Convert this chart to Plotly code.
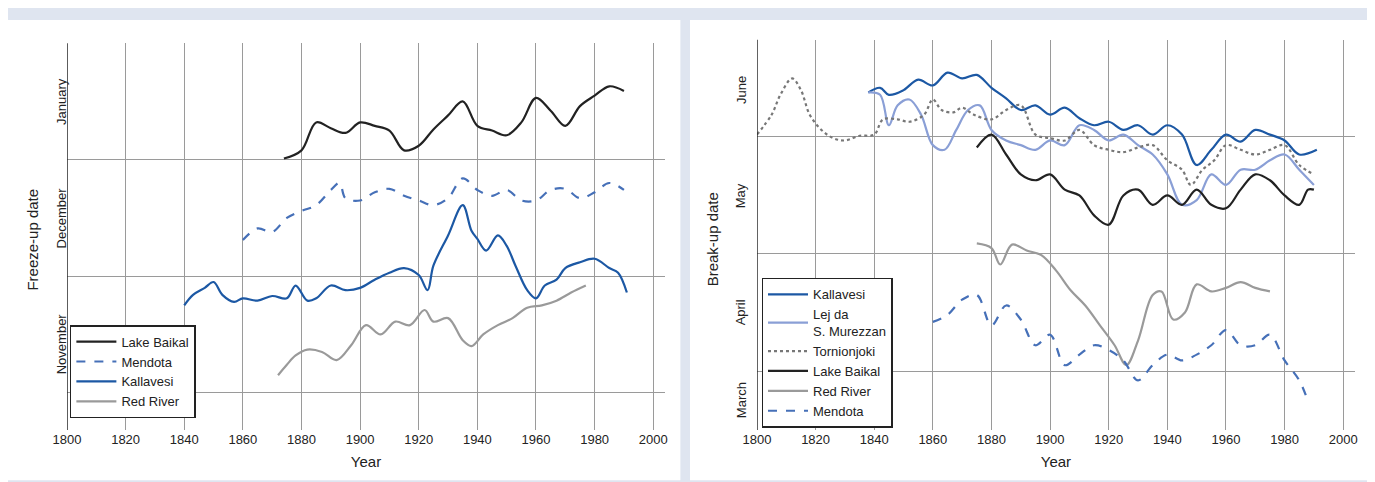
import plotly.graph_objects as go

# Left panel: freeze-up (months after 1 Nov; 0=Nov, 1=Dec, 2=Jan)
baikal_f_yr = [1874,1880,1885,1890,1895,1900,1905,1910,1915,1920,1925,1930,1935,1940,1945,1950,1955,1960,1965,1970,1975,1980,1985,1990]
baikal_f = [2.01,2.08,2.32,2.27,2.23,2.32,2.29,2.25,2.08,2.12,2.26,2.38,2.50,2.29,2.25,2.21,2.32,2.53,2.42,2.29,2.46,2.55,2.63,2.59]
mendota_f_yr = [1860,1865,1870,1875,1880,1885,1890,1893,1895,1900,1905,1910,1915,1920,1925,1930,1935,1940,1945,1950,1955,1960,1965,1970,1975,1980,1985,1990]
mendota_f = [1.31,1.41,1.38,1.50,1.56,1.61,1.74,1.80,1.67,1.65,1.72,1.75,1.69,1.65,1.61,1.67,1.84,1.74,1.69,1.74,1.65,1.65,1.74,1.75,1.67,1.72,1.80,1.74]
kall_f_yr = [1840,1843,1847,1850,1853,1857,1860,1865,1870,1875,1878,1882,1885,1890,1895,1900,1905,1910,1915,1920,1923,1925,1930,1935,1938,1940,1943,1947,1950,1953,1957,1960,1963,1967,1970,1975,1980,1985,1988,1991]
kall_f = [.75,.84,.90,.95,.84,.78,.81,.79,.83,.81,.92,.79,.81,.92,.88,.90,.97,1.03,1.07,1.01,.88,1.09,1.35,1.61,1.39,1.32,1.22,1.35,1.26,1.09,.88,.81,.92,.97,1.07,1.12,1.15,1.07,1.03,.86]
red_f_yr = [1872,1875,1878,1882,1887,1892,1897,1902,1907,1912,1917,1922,1925,1930,1935,1938,1942,1947,1952,1957,1962,1967,1972,1977]
red_f = [.15,.24,.32,.37,.35,.28,.41,.58,.50,.61,.58,.71,.61,.64,.45,.40,.50,.58,.64,.73,.75,.79,.86,.92]

# Right panel: break-up (1=Apr, 2=May, 3=Jun starts)
torn_yr = [1800,1805,1808,1812,1815,1818,1822,1826,1830,1835,1840,1843,1848,1852,1857,1860,1863,1867,1870,1874,1880,1885,1890,1895,1900,1905,1910,1915,1920,1925,1930,1935,1940,1945,1948,1952,1956,1960,1965,1970,1975,1980,1985,1990]
torn = [3.02,3.19,3.36,3.50,3.40,3.19,3.06,2.99,2.97,3.01,3.02,3.15,3.15,3.13,3.19,3.32,3.23,3.21,3.25,3.19,3.15,3.23,3.27,3.02,2.99,2.97,3.06,2.93,2.89,2.87,2.91,2.93,2.80,2.72,2.59,2.72,2.80,2.93,2.89,2.85,2.89,2.93,2.76,2.68]
kall_b_yr = [1838,1842,1845,1850,1855,1860,1865,1870,1875,1880,1885,1890,1895,1900,1905,1910,1915,1920,1925,1930,1935,1940,1945,1950,1955,1960,1965,1970,1975,1980,1985,1991]
kall_b = [3.38,3.42,3.36,3.40,3.49,3.44,3.55,3.50,3.53,3.42,3.33,3.23,3.27,3.19,3.25,3.16,3.10,3.13,3.06,3.10,3.02,3.10,3.02,2.76,2.89,3.02,2.96,3.06,3.02,2.97,2.85,2.89]
lej_yr = [1838,1842,1845,1848,1852,1856,1860,1864,1868,1872,1876,1880,1885,1890,1895,1900,1905,1910,1915,1920,1925,1930,1935,1940,1945,1950,1955,1960,1965,1970,1975,1980,1985,1990]
lej = [3.38,3.36,3.10,3.27,3.32,3.19,2.93,2.89,3.06,3.23,3.27,3.06,2.97,2.93,2.89,2.97,2.93,3.10,3.06,2.97,3.02,2.93,2.85,2.68,2.42,2.46,2.68,2.59,2.72,2.72,2.80,2.85,2.72,2.59]
baikal_b_yr = [1875,1880,1885,1890,1895,1900,1905,1910,1915,1920,1925,1930,1935,1940,1945,1950,1955,1960,1965,1970,1975,1980,1985,1988,1990]
baikal_b = [2.91,3.02,2.85,2.68,2.63,2.68,2.55,2.50,2.33,2.25,2.50,2.55,2.42,2.50,2.42,2.55,2.42,2.39,2.55,2.68,2.63,2.50,2.42,2.55,2.55]
red_b_yr = [1875,1880,1883,1887,1892,1897,1902,1907,1912,1917,1922,1926,1930,1935,1938,1942,1946,1950,1955,1960,1965,1970,1975]
red_b = [2.09,2.05,1.91,2.08,2.03,1.99,1.86,1.69,1.56,1.39,1.22,1.05,1.26,1.65,1.68,1.44,1.50,1.74,1.68,1.71,1.76,1.71,1.68]
mendota_b_yr = [1860,1865,1870,1875,1880,1885,1890,1895,1900,1905,1910,1915,1920,1925,1930,1935,1940,1945,1950,1955,1960,1965,1970,1975,1980,1985,1988]
mendota_b = [1.42,1.48,1.61,1.65,1.39,1.56,1.44,1.22,1.31,1.05,1.14,1.22,1.18,1.09,.92,1.05,1.14,1.09,1.14,1.22,1.35,1.22,1.22,1.31,1.09,.92,.74]

BLACK = "#222222"
DARK = "#1c58a4"
LIGHT = "#8a9fd6"
DASH = "#4670b8"
GRAY = "#9a9a9a"

fig = go.Figure()

def add(x, y, name, color, dash, xa, ya, leg):
    fig.add_trace(go.Scatter(x=x, y=y, name=name, mode="lines", line_shape="spline",
                             line=dict(color=color, width=2.2, dash=dash),
                             xaxis=xa, yaxis=ya, legend=leg))

add(baikal_f_yr, baikal_f, "Lake Baikal", BLACK, "solid", "x", "y", "legend")
add(mendota_f_yr, mendota_f, "Mendota", DASH, "dash", "x", "y", "legend")
add(kall_f_yr, kall_f, "Kallavesi", DARK, "solid", "x", "y", "legend")
add(red_f_yr, red_f, "Red River", GRAY, "solid", "x", "y", "legend")

add(kall_b_yr, kall_b, "Kallavesi", DARK, "solid", "x2", "y2", "legend2")
add(lej_yr, lej, "Lej da<br>S. Murezzan", LIGHT, "solid", "x2", "y2", "legend2")
add(torn_yr, torn, "Tornionjoki", "#777777", "dot", "x2", "y2", "legend2")
add(baikal_b_yr, baikal_b, "Lake Baikal", BLACK, "solid", "x2", "y2", "legend2")
add(red_b_yr, red_b, "Red River", GRAY, "solid", "x2", "y2", "legend2")
add(mendota_b_yr, mendota_b, "Mendota", DASH, "dash", "x2", "y2", "legend2")

xcommon = dict(range=[1800, 2004], tickvals=list(range(1800, 2001, 20)), showgrid=True,
               gridcolor="#9a9a9a", gridwidth=1, zeroline=False, showline=False,
               ticks="", tickfont=dict(size=13, color="#222"),
               title=dict(text="Year", font=dict(size=15, color="#222"), standoff=10))
ycommon = dict(showgrid=True, gridcolor="#9a9a9a", gridwidth=1, zeroline=False,
               showticklabels=False, ticks="", showline=False)

fig.update_layout(
    width=1375, height=482, margin=dict(l=0, r=0, t=0, b=0, autoexpand=False),
    paper_bgcolor="#dfe5f0", plot_bgcolor="white",
    font=dict(family="Liberation Sans, Arial, sans-serif", color="#222"),
    xaxis=dict(domain=[0.0429, 0.4778], anchor="y", **xcommon),
    yaxis=dict(domain=[0.1245, 0.927], range=[-0.32, 3.0], tickvals=[0, 1, 2, 3], anchor="x", **ycommon),
    xaxis2=dict(domain=[0.5447, 0.9796], anchor="y2", **xcommon),
    yaxis2=dict(domain=[0.1245, 0.934], range=[0.496, 3.83], tickvals=[1, 2, 3], anchor="x2", **ycommon),
    legend=dict(x=0.045, y=0.342, xanchor="left", yanchor="top", bgcolor="white",
                bordercolor="#222", borderwidth=1.5, font=dict(size=13), tracegroupgap=0,
                itemwidth=40),
    legend2=dict(x=0.548, y=0.44, xanchor="left", yanchor="top", bgcolor="white",
                 bordercolor="#222", borderwidth=1.5, font=dict(size=13), tracegroupgap=0,
                 itemwidth=40),
)

# white panels behind each chart
for x0, x1 in [(0.0, 0.489), (0.496, 0.989)]:
    fig.add_shape(type="rect", xref="paper", yref="paper", x0=x0, x1=x1, y0=0.02, y1=0.975,
                  fillcolor="white", line=dict(width=0), layer="below")
# y axis lines at 1800
for xa, ya in [("x", "y domain"), ("x2", "y2 domain")]:
    fig.add_shape(type="line", xref=xa, yref=ya, x0=1800, x1=1800, y0=0, y1=1,
                  line=dict(color="#222", width=1.5))

# month labels
for xp, labels in [(0.032, [("November", "y", 0.42), ("December", "y", 1.5), ("January", "y", 2.5)]),
                   (0.533, [("March", "y2", 0.75), ("April", "y2", 1.5), ("May", "y2", 2.5), ("June", "y2", 3.4)])]:
    for txt, ya, yv in labels:
        fig.add_annotation(text=txt, xref="paper", yref=ya, x=xp, y=yv, textangle=-90,
                           showarrow=False, font=dict(size=13, color="#222"))
fig.add_annotation(text="Freeze-up date", xref="paper", yref="paper", x=0.010, y=0.52,
                   textangle=-90, showarrow=False, font=dict(size=15, color="#222"))
fig.add_annotation(text="Break-up date", xref="paper", yref="paper", x=0.512, y=0.52,
                   textangle=-90, showarrow=False, font=dict(size=15, color="#222"))

fig.write_html("out.html")
